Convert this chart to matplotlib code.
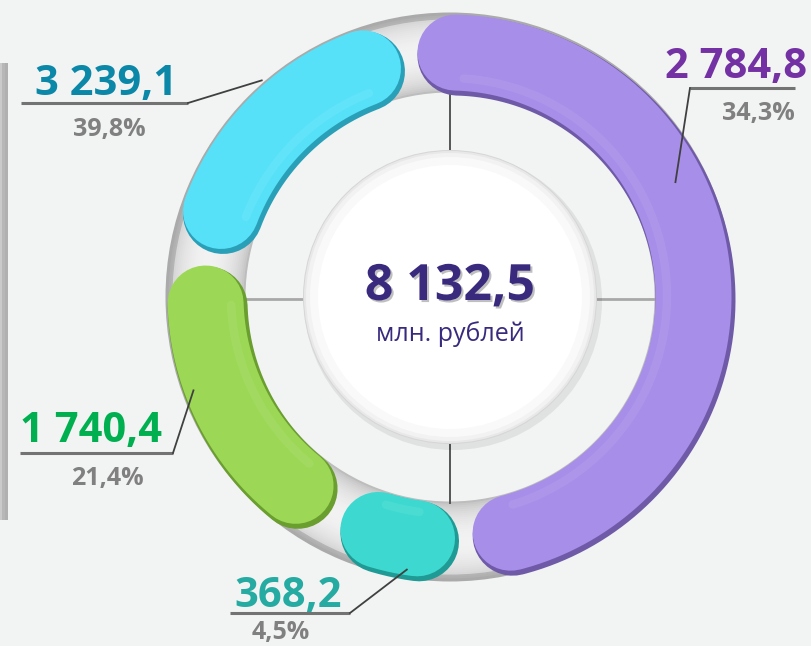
import numpy as np
import matplotlib.pyplot as plt
from matplotlib.patches import Wedge, Circle, Rectangle
from matplotlib import patheffects as pe

# values, clockwise from the top of the ring
value_labels = ['2 784,8', '368,2', '1 740,4', '3 239,1']
values = [2784.8, 368.2, 1740.4, 3239.1]
share_labels = ['34,3%', '4,5%', '21,4%', '39,8%']
unit_label = 'млн. рублей'
# part of the ring each band covers in the picture, percent
ring_share = [50.8, 7.8, 18.9, 18.75]

band_colors = ['#a78ee9', '#3dd9d0', '#9cd856', '#56e1f9']
band_edges = ['#6f5aa8', '#1f9a94', '#6a9e2e', '#2a9fb8']
text_colors = ['#7431a4', '#25aba2', '#00b050', '#0b87a8']

# label layout: value centre x, value baseline, pct centre x, pct baseline,
# underline x0, x1, y, leader end (angle deg, radius)
label_pos = [
    (736, 78, 758, 120, 690, 795, 88, 27, 253, 'left'),
    (288, 607, 281, 639, 230, 350, 613, -99, 276, 'right'),
    (91, 442, 107, 485, 20, 173, 453, 200, 273, 'right'),
    (106, 95, 109, 136, 21, 188, 103, 131, 287, 'right'),
]

W, H = 812, 646
cx, cy = 450, 297
r_in, r_out = 205, 284
r_mid, band_w = 244, 80
pt = 72 / 100

fig = plt.figure(figsize=(W / 100, H / 100), dpi=100)
fig.patch.set_facecolor('#f2f3f3')
ax = fig.add_axes([0, 0, 1, 1])
ax.set_xlim(0, W)
ax.set_ylim(H, 0)
ax.axis('off')

font = 'Open Sans'


def polar(a, r):
    t = np.radians(a)
    return cx + r * np.cos(t), cy - r * np.sin(t)


# shadow strip on the left edge
for x0, a in [(0, 0.35), (2, 0.25), (5, 0.12)]:
    ax.add_patch(Rectangle((x0, 63), 8 - x0, 457, color='#808080', alpha=a, lw=0))

# grey tube
n = 40
rs = np.linspace(r_in, r_out, n + 1)
for i in range(n):
    f = (rs[i] - r_in) / (r_out - r_in)
    g = 0.74 + 0.21 * np.sin(np.pi * f) ** 0.6
    if f > 0.92:
        g -= 0.12
    ax.add_patch(Wedge((cx, cy), rs[i + 1] + 0.5, 0, 360, width=rs[i + 1] - rs[i] + 1,
                       color=(g, g, g), lw=0, zorder=1))

# cross lines between disc and tube
ax.plot([cx, cx], [cy - r_in - 1, cy - 146], color='#555555', lw=1.4, zorder=2)
ax.plot([cx, cx], [cy + 146, cy + r_in + 1], color='#555555', lw=1.4, zorder=2)
ax.plot([cx - r_in - 1, cx - 146], [cy + 2, cy + 2], color='#a8a8a8', lw=2, zorder=2)
ax.plot([cx + 146, cx + r_in + 1], [cy + 2, cy + 2], color='#a8a8a8', lw=2, zorder=2)

# centre disc
ax.add_patch(Circle((cx + 3, cy + 4), 149, color='#000000', alpha=0.07, lw=0, zorder=3))
for r, c in [(147, '#d6d6d6'), (146, '#e8e8e8'), (144, '#f2f2f2'), (140, '#f9f9f9'), (132, '#ffffff')]:
    ax.add_patch(Circle((cx, cy), r, color=c, lw=0, zorder=3))

# coloured bands with round ends
gap = (360 - sum(ring_share) * 3.6) / len(ring_share)
cap = np.degrees(band_w / 2 / r_mid)
ang = 98
for share, col, edge in zip(ring_share, band_colors, band_edges):
    span = share * 3.6
    a = np.linspace(ang - cap, ang - span + cap, 200)
    x, y = polar(a, r_mid)
    ax.plot(x + 1.5, y + 2.5, color=edge, lw=band_w * pt, solid_capstyle='round', zorder=4)
    ax.plot(x - 0.5, y - 0.5, color=col, lw=(band_w - 4) * pt, solid_capstyle='round', zorder=5)
    hx, hy = polar(a[3:-3], r_mid - 26)
    ax.plot(hx - 1, hy - 1, color='white', alpha=0.07, lw=6, solid_capstyle='round', zorder=6)
    ang -= span + gap

# labels
for vl, sl, tc, p in zip(value_labels, share_labels, text_colors, label_pos):
    vx, vy, px, py, u0, u1, uy, la, lr, side = p
    ax.text(vx, vy, vl, ha='center', va='baseline', fontsize=30, fontweight='bold',
            color=tc, family=font, zorder=8)
    ax.text(px, py, sl, ha='center', va='baseline', fontsize=18, fontweight='bold',
            color='#808080', family=font, zorder=8)
    ax.plot([u0, u1], [uy, uy], color='#737373', lw=2.2, solid_capstyle='butt', zorder=8)
    ex, ey = polar(la, lr)
    sx = u0 if side == 'left' else u1
    ax.plot([sx, ex], [uy, ey], color='#404040', lw=1.3, zorder=8)

total = f'{sum(values):,.1f}'.replace(',', ' ').replace('.', ',')
ax.text(cx, 300, total, ha='center', va='baseline', fontsize=36, fontweight='bold',
        color='#3a2a7e', family=font, zorder=8,
        path_effects=[pe.withSimplePatchShadow(offset=(1.5, -1.5), shadow_rgbFace='#000000', alpha=0.25)])
ax.text(cx, 341, unit_label, ha='center', va='baseline', fontsize=18,
        color='#3a2a7e', family=font, zorder=8)

fig.savefig('out.png', dpi=100, facecolor=fig.get_facecolor())
